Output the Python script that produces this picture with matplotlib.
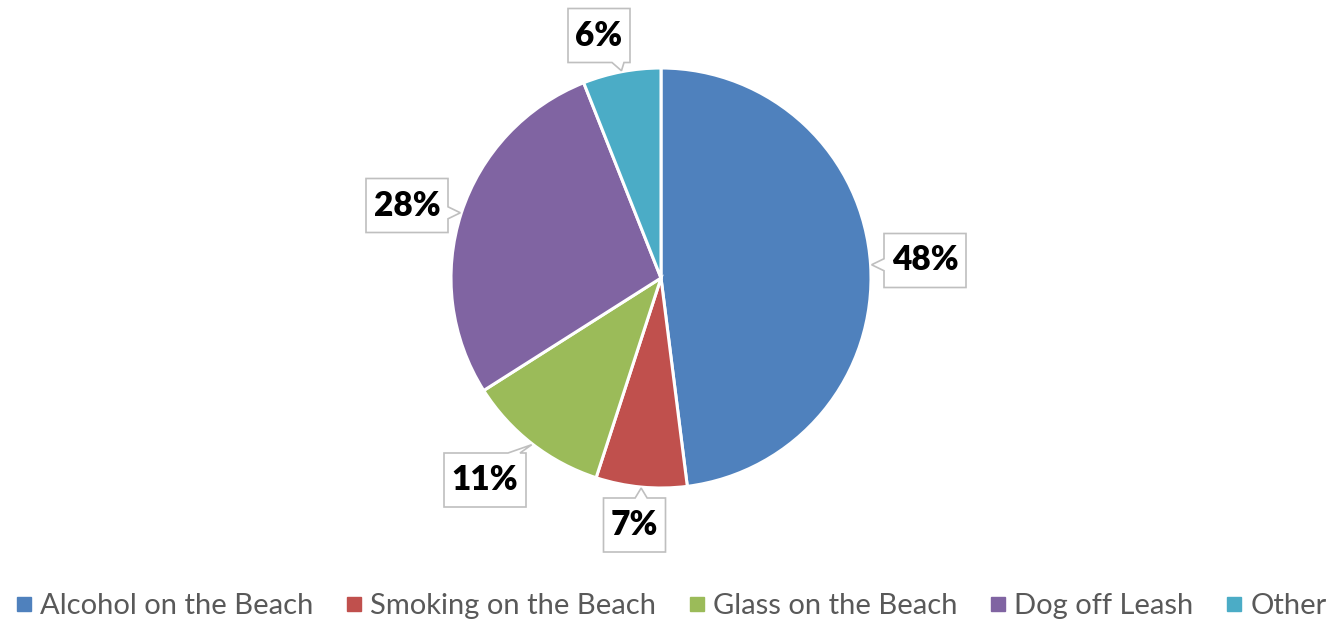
import numpy as np
import matplotlib.pyplot as plt
from matplotlib.patches import Polygon
from matplotlib.lines import Line2D

categories = ['Alcohol on the Beach', 'Smoking on the Beach', 'Glass on the Beach',
              'Dog off Leash', 'Other']
shares = [48, 7, 11, 28, 6]
labels = ['48%', '7%', '11%', '28%', '6%']
colors = ['#4F81BD', '#C0504D', '#9BBB59', '#8064A2', '#4BACC6']

# layout, in pixels from the top left of the image
W, H = 1343, 622
pie_center = (661, 278)
pie_radius = 210
box_centers = [(925, 260.5), (634.5, 525), (485, 480), (407, 205.5), (599, 35.5)]
box_h = 54


def callout(ax, cx, cy, w, h, tip):
    x0, x1 = cx - w / 2, cx + w / 2
    y0, y1 = cy - h / 2, cy + h / 2
    tx, ty = tip
    if ty < y0:
        side = 'top'
    elif ty > y1:
        side = 'bottom'
    elif tx < x0:
        side = 'left'
    else:
        side = 'right'
    hw = 6
    bx = np.clip(tx, x0 + 12, x1 - 12)
    by = np.clip(ty, y0 + 12, y1 - 12)
    pts = [(x0, y0)]
    if side == 'top':
        pts += [(bx - hw, y0), (tx, ty), (bx + hw, y0)]
    pts.append((x1, y0))
    if side == 'right':
        pts += [(x1, by - hw), (tx, ty), (x1, by + hw)]
    pts.append((x1, y1))
    if side == 'bottom':
        pts += [(bx + hw, y1), (tx, ty), (bx - hw, y1)]
    pts.append((x0, y1))
    if side == 'left':
        pts += [(x0, by + hw), (tx, ty), (x0, by - hw)]
    pts = [(p[0], H - p[1]) for p in pts]
    ax.add_patch(Polygon(pts, closed=True, facecolor='white', edgecolor='#BFBFBF',
                         linewidth=1.2, zorder=3))


plt.rcParams['font.family'] = ['Lato', 'DejaVu Sans']

fig = plt.figure(figsize=(W / 100, H / 100), dpi=100)
ax = fig.add_axes([0, 0, 1, 1])

wedges, _ = ax.pie(shares, colors=colors, startangle=90, counterclock=False,
                   center=(pie_center[0], H - pie_center[1]), radius=pie_radius,
                   wedgeprops=dict(edgecolor='white', linewidth=2.2))
ax.set_xlim(0, W)
ax.set_ylim(0, H)
ax.set_aspect('auto')
ax.axis('off')

for w, lab, (cx, cy) in zip(wedges, labels, box_centers):
    mid = np.deg2rad((w.theta1 + w.theta2) / 2)
    tip = (pie_center[0] + (pie_radius + 1) * np.cos(mid),
           pie_center[1] - (pie_radius + 1) * np.sin(mid))
    bw = 82 if len(lab) == 3 else 62
    callout(ax, cx, cy, bw, box_h, tip)
    ax.text(cx, H - cy, lab, ha='center', va='center', fontsize=24,
            fontweight='heavy', color='black', zorder=4)

handles = [Line2D([], [], marker='s', linestyle='none', markersize=10,
                  markerfacecolor=c, markeredgecolor=c) for c in colors]
fig.legend(handles, categories, loc='center', bbox_to_anchor=(0.5, 1 - 606 / H),
           ncol=5, frameon=False, fontsize=21, labelcolor='#595959',
           handlelength=0.5, handletextpad=0.3, columnspacing=1.15)

fig.savefig('out.png', dpi=100)
